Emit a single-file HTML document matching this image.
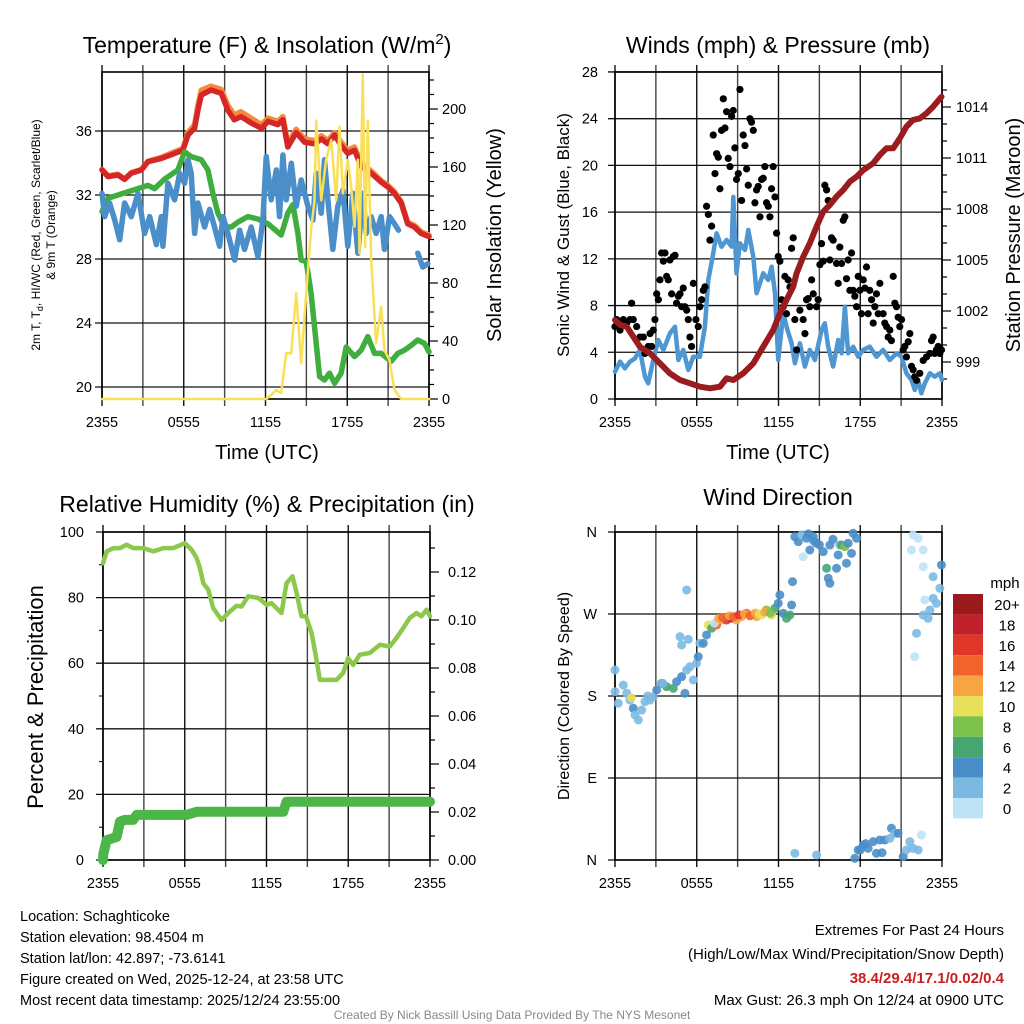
<!DOCTYPE html>
<html><head><meta charset="utf-8">
<style>
html,body{margin:0;padding:0;background:#fff;}
svg{display:block;font-family:"Liberation Sans",Arial,sans-serif;}
</style></head>
<body>
<svg id="c" width="1024" height="1024" viewBox="0 0 1024 1024" xmlns="http://www.w3.org/2000/svg">
<rect width="1024" height="1024" fill="#fff"/>
<text x="267" y="53" font-size="23" text-anchor="middle">Temperature (F) &amp; Insolation (W/m<tspan dy="-9" font-size="15">2</tspan><tspan dy="9">)</tspan></text>
<text x="778" y="53" font-size="23" text-anchor="middle">Winds (mph) &amp; Pressure (mb)</text>
<text x="267" y="512" font-size="23" text-anchor="middle">Relative Humidity (%) &amp; Precipitation (in)</text>
<text x="778" y="505" font-size="23" text-anchor="middle">Wind Direction</text>
<text transform="translate(40,235) rotate(-90)" font-size="12" text-anchor="middle">2m T, T<tspan dy="3" font-size="9">d</tspan><tspan dy="-3">, HI/WC (Red, Green, Scarlet/Blue)</tspan></text>
<text transform="translate(55,235) rotate(-90)" font-size="12" text-anchor="middle">&amp; 9m T (Orange)</text>
<text transform="translate(501,235) rotate(-90)" font-size="20" text-anchor="middle">Solar Insolation (Yellow)</text>
<text x="267" y="459" font-size="20" text-anchor="middle">Time (UTC)</text>
<text transform="translate(569,235) rotate(-90)" font-size="17" text-anchor="middle">Sonic Wind &amp; Gust (Blue, Black)</text>
<text transform="translate(1020,235) rotate(-90)" font-size="20" text-anchor="middle">Station Pressure (Maroon)</text>
<text x="778" y="459" font-size="20" text-anchor="middle">Time (UTC)</text>
<text transform="translate(43,697) rotate(-90)" font-size="22" text-anchor="middle">Percent &amp; Precipitation</text>
<text transform="translate(569,696) rotate(-90)" font-size="16" text-anchor="middle">Direction (Colored By Speed)</text>
<text x="1005" y="588" font-size="15" text-anchor="middle">mph</text>
<g font-size="14.5">
<text x="20" y="921">Location: Schaghticoke</text>
<text x="20" y="942">Station elevation: 98.4504 m</text>
<text x="20" y="963">Station lat/lon: 42.897; -73.6141</text>
<text x="20" y="984">Figure created on Wed, 2025-12-24, at 23:58 UTC</text>
<text x="20" y="1005">Most recent data timestamp: 2025/12/24 23:55:00</text>
</g>
<g font-size="15" text-anchor="end">
<text x="1004" y="935">Extremes For Past 24 Hours</text>
<text x="1004" y="959">(High/Low/Max Wind/Precipitation/Snow Depth)</text>
<text x="1004" y="983" fill="#c8201f" font-weight="bold">38.4/29.4/17.1/0.02/0.4</text>
<text x="1004" y="1005">Max Gust: 26.3 mph On 12/24 at 0900 UTC</text>
</g>
<text x="512" y="1019" font-size="12" fill="#888" text-anchor="middle">Created By Nick Bassill Using Data Provided By The NYS Mesonet</text>
</svg>
<script>
const timeLabels = ["2355","0555","1155","1755","2355"];
const tempTicks = [20,24,28,32,36];
const solarTicks = [0,40,80,120,160,200];
const redHours = [0,0.44,1.17,1.66,2.15,2.9,3.37,4.35,5.33,5.94,6.31,6.8,7.04,7.29,8.0,8.75,9.24,9.7,10.2,10.95,11.7,12.18,12.9,13.28,13.64,14.25,14.87,15.6,16.1,16.58,17.07,17.55,18.04,18.53,19.02,19.76,20.5,20.98,21.47,21.96,22.44,22.93,23.42,24];
const redTemp = [33.56,33.15,33.25,32.98,33.36,33.56,34.08,34.29,34.6,34.8,35.75,36.17,37.3,38.25,38.56,38.36,37.3,36.7,36.9,36.5,36.17,36.6,36.4,36.7,35.0,35.9,35.3,35.2,35.5,35.2,35.75,35.1,34.6,34.8,33.8,33.36,32.8,32.5,32.1,31.5,30.2,30.0,29.6,29.4];
const orangeTemp = [33.6,33.2,33.3,33.0,33.4,33.6,34.1,34.35,34.7,34.9,35.9,36.4,37.6,38.55,38.8,38.6,37.6,37.0,37.2,36.8,36.4,36.8,36.6,36.9,35.2,36.1,35.5,35.4,35.7,35.4,35.9,35.3,34.8,35.0,34.0,33.5,32.9,32.6,32.2,31.6,30.3,30.1,29.7,29.5];
const greenHours = [0,0.44,1.17,1.91,2.64,3.37,3.86,4.6,5.57,6.06,6.55,7.29,7.77,8.14,8.51,9.0,9.5,9.97,10.7,11.44,12.18,13.15,13.64,14.01,14.38,14.62,14.99,15.35,15.72,15.97,16.33,16.7,17.07,17.55,17.92,18.53,19.02,19.51,20.0,20.49,21.22,21.71,22.2,22.69,23.17,23.66,24];
const greenTemp = [30.96,31.8,32.0,32.2,32.4,32.6,32.4,33.0,33.56,34.7,34.4,34.2,33.56,32.1,30.86,30.0,30.0,30.3,30.65,30.5,30.2,29.5,30.86,31.4,29.6,27.94,27.84,25.86,22.73,20.65,20.44,20.86,20.23,20.86,22.5,21.9,22.3,23.15,22.1,22.1,21.6,22.1,22.3,22.6,22.94,22.73,22.2];
const blueHours = [0,0.2,0.56,0.93,1.3,1.66,2.15,2.64,3.13,3.5,3.99,4.35,4.47,4.84,5.33,5.7,6.06,6.31,6.55,6.8,7.04,7.53,7.9,8.26,8.63,8.88,9.24,9.73,10.1,10.46,10.95,11.44,11.81,12.05,12.42,12.79,13.03,13.28,13.52,13.89,14.25,14.62,15.11,15.48,15.72,16.09,16.33,16.58,16.94,17.31,17.68,18.04,18.41,18.78,19.14,19.39,19.76,20.12,20.49,20.73,21.1,21.47,21.76,22.5,23.18,23.54,23.91];
const blueTemp = [32.1,30.65,31.5,30.44,29.2,31.5,30.65,32.1,29.6,30.65,28.9,30.65,28.8,32.73,31.7,33.36,32.73,34.2,33.36,29.6,31.5,30.0,31.1,30.0,28.8,30.65,29.6,27.94,29.8,28.6,30.0,28.15,30.44,34.4,31.7,33.56,30.65,34.5,31.7,33.98,31.3,32.94,31.3,30.44,33.36,30.86,34.2,31.7,28.6,31.3,32.3,28.8,32.1,28.36,32.1,29.6,30.65,29.6,30.65,28.6,30.65,30.2,29.8,null,28.36,27.5,27.7];
const solarHours = [0,12.05,12.42,12.79,13.15,13.52,13.89,14.25,14.62,14.99,15.35,15.6,15.72,16.09,16.45,16.82,17.19,17.43,17.68,18.04,18.29,18.53,18.78,18.9,19.14,19.32,19.51,19.76,20.12,20.49,20.73,21.1,21.47,21.96,24];
const solarWm2 = [0,0,2.8,6.2,4.1,31.6,31.6,73,24.6,73,116.6,137,192,137,165,178.6,137,187.8,141.8,165,146.4,118.8,165,100.5,224,105,192,95.9,38.4,63.7,33.8,26.9,6.2,0,0];
const windTicks = [0,4,8,12,16,20,24,28];
const presTicks = [999,1002,1005,1008,1011,1014];
const presHours = [0,0.37,0.86,1.34,1.83,2.57,3.3,4.03,4.77,5.5,6.23,6.97,7.7,8.19,8.68,9.41,10.15,10.88,11.61,12.1,12.59,13.08,13.33,13.81,14.3,14.79,15.28,15.77,16.26,16.75,17.24,17.73,18.22,18.95,19.44,19.93,20.42,20.9,21.39,21.88,22.37,22.86,23.35,23.96];
const presMb = [1001.47,1001.18,1001.08,1000.49,999.9,999.51,998.92,998.33,997.94,997.75,997.55,997.45,997.55,998.04,997.94,998.33,998.92,999.9,1000.88,1001.86,1002.65,1003.43,1004.22,1005.19,1005.98,1006.96,1007.84,1008.24,1008.73,1009.12,1009.61,1009.9,1010.29,1010.69,1011.18,1011.57,1011.57,1012.16,1012.84,1013.24,1013.33,1013.63,1014.02,1014.6];
const windHours = [0,0.37,0.73,1.1,1.47,1.83,2.2,2.44,2.81,3.18,3.55,4.03,4.4,4.65,5.01,5.38,5.75,6.23,6.6,6.85,7.21,7.46,7.82,8.19,8.56,8.68,8.92,9.17,9.54,9.78,10.15,10.39,10.88,11.25,11.49,11.74,11.98,12.35,12.59,12.96,13.2,13.57,13.94,14.3,14.67,15.16,15.4,15.65,16.01,16.38,16.63,16.87,17.11,17.48,17.85,18.22,18.7,19.19,19.68,20.17,20.66,21.03,21.39,21.76,22.0,22.25,22.49,22.74,23.11,23.47,23.84,24];
const windMph = [2.34,3.2,2.63,3.2,3.48,4.2,1.91,1.34,3.34,5.05,4.2,5.62,6.19,3.34,4.2,2.48,3.62,3.62,6.19,10.19,12.47,14.19,13.04,13.61,13.04,17.3,10.76,13.33,12.76,14.47,12.18,9.05,10.76,10.19,11.33,9.05,3.34,7.34,6.19,4.77,3.06,4.77,2.77,4.2,3.34,5.91,6.48,4.48,2.77,5.05,3.91,7.9,3.91,4.48,3.62,4.2,4.48,3.62,4.2,3.34,3.91,3.62,2.2,1.63,0.77,1.63,0.49,1.34,2.2,1.91,2.2,1.63];
const gustHours = [0,0.12,0.37,0.61,0.86,1.1,1.22,1.34,1.59,1.83,2.08,2.2,2.44,2.57,2.69,2.81,2.93,3.06,3.18,3.3,3.42,3.55,3.67,3.79,3.91,4.03,4.16,4.28,4.4,4.52,4.65,4.77,4.89,5.01,5.13,5.26,5.38,5.5,5.62,5.75,5.94,6.11,6.23,6.36,6.48,6.6,6.72,6.85,6.97,7.09,7.21,7.34,7.46,7.58,7.7,7.82,7.95,8.07,8.19,8.31,8.44,8.56,8.68,8.8,8.92,9.05,9.17,9.29,9.41,9.54,9.66,9.78,9.9,10.02,10.15,10.27,10.39,10.51,10.64,10.76,10.88,11.0,11.12,11.25,11.37,11.49,11.61,11.74,11.86,11.98,12.1,12.23,12.35,12.47,12.59,12.71,12.84,12.96,13.08,13.2,13.33,13.57,13.81,13.94,14.06,14.18,14.3,14.43,14.55,14.79,14.91,15.04,15.16,15.28,15.4,15.53,15.65,15.77,15.89,16.01,16.26,16.38,16.5,16.63,16.75,16.87,16.99,17.11,17.24,17.36,17.48,17.6,17.73,17.85,17.97,18.09,18.22,18.34,18.46,18.58,18.7,18.83,18.95,19.07,19.19,19.32,19.44,19.68,19.8,19.93,20.05,20.17,20.29,20.42,20.54,20.66,20.78,20.9,21.03,21.15,21.27,21.39,21.52,21.64,21.76,21.88,22.0,22.13,22.37,22.62,22.86,23.11,23.23,23.35,23.47,23.59,23.72,23.84,23.96];
const gustMph = [6.2,6.8,5.9,6.8,6.5,6.8,8.2,6.8,6.2,5.3,5.3,3.9,4.5,5.6,4.5,5.9,6.8,9.0,8.5,10.2,12.5,11.8,12.5,10.5,10.2,11.9,9.0,12.2,12.3,8.2,8.8,9.0,7.9,9.5,7.9,7.6,6.8,5.3,4.5,9.9,6.8,6.2,7.9,8.5,9.3,9.6,16.5,15.8,13.6,14.8,22.6,19.3,21.0,20.7,18.0,23.0,25.7,23.2,24.6,20.6,19.9,24.2,24.7,21.5,18.8,19.3,26.5,17.0,22.6,21.7,19.7,18.3,24.0,23.7,23.0,16.8,17.9,18.2,15.6,18.8,18.9,19.9,16.8,16.5,15.6,18.0,19.9,17.3,14.2,12.2,11.8,8.5,7.9,10.5,7.3,10.2,9.6,12.9,13.8,6.8,4.2,7.6,6.8,5.6,8.5,8.6,7.9,10.2,9.0,7.9,8.5,11.5,13.3,11.8,18.3,17.9,17.0,11.9,13.8,13.6,11.6,9.9,13.0,11.6,15.3,15.6,10.3,11.9,9.3,12.5,9.3,8.8,7.9,10.5,9.3,7.3,10.2,9.5,11.3,7.3,9.3,8.5,6.5,7.9,9.0,7.3,9.9,7.3,6.5,6.2,5.3,5.9,5.0,10.5,8.2,7.9,7.0,6.2,6.8,4.2,4.5,3.6,4.9,5.6,2.8,2.5,1.9,1.6,2.2,3.3,3.6,3.9,5.0,5.3,3.9,4.2,4.5,3.9,4.2];
const rhTicks = [0,20,40,60,80,100];
const precipTicks = ["0.00","0.02","0.04","0.06","0.08","0.10","0.12"];
const rhHours = [0,0.27,0.76,1.25,1.74,2.22,2.96,3.69,4.43,5.16,6.01,6.5,6.87,7.11,7.36,7.73,8.09,8.7,9.32,9.8,10.17,10.66,11.39,12.0,12.37,13.1,13.47,13.91,14.21,14.57,14.89,15.31,15.67,15.92,16.28,16.65,17.14,17.63,17.99,18.36,18.85,19.58,20.32,21.05,21.54,22.03,22.52,23.01,23.37,23.74,24];
const rhPct = [90.5,94.1,95.1,95.1,96.1,95.1,95.1,94.1,95.1,95.1,96.6,94.6,92.1,89,84.4,82.4,76.8,73.2,75.8,77.5,77.3,80.4,79.9,77.8,78.3,75.3,84.4,86.5,81.4,74.3,74.3,69.2,61.0,54.9,54.9,54.9,54.9,57,61.5,59.5,62.6,63.1,65.6,65.1,67.7,70.7,73.8,75.3,74.3,76.3,74.3];
const precipHours = [0,0.02,0.27,1.0,1.25,1.61,2.22,2.47,6.14,6.87,13.23,13.47,24];
const precipIn = [0,0.0025,0.0083,0.0096,0.016,0.0167,0.0167,0.0188,0.0188,0.0201,0.0201,0.0243,0.0243];
const dirLabels = ["N","E","S","W","N"];
const dirHours = [0,0,0.24,0.61,0.86,1.1,1.34,1.47,1.71,1.96,2.2,2.57,2.81,3.06,3.42,3.79,4.28,4.52,4.89,5.13,5.26,5.5,5.75,5.99,6.11,6.23,6.48,6.72,4.77,4.89,5.38,5.26,6.85,7.09,7.46,7.82,8.19,8.56,8.92,9.29,9.66,10.02,10.39,10.76,11.12,11.49,11.74,11.98,12.1,12.35,12.59,12.84,12.96,13.03,13.2,13.45,13.69,13.81,14.06,14.3,14.55,14.79,15.28,15.77,15.53,15.65,15.77,16.26,16.38,16.5,16.63,16.87,17.11,17.36,16.99,17.48,17.73,13.2,14.79,17.6,17.85,18.22,18.58,18.95,19.19,19.44,19.8,20.17,20.29,20.54,20.78,21.15,21.39,21.64,21.88,22.25,22.49,21.88,22.25,21.76,22.62,22.62,23.35,23.84,23.96,22.74,23.35,23.59,23.11,22.62,22.98,22.13,22.0,7.3,7.6,7.9,8.4,8.7,9.1,9.5,9.9,10.3,10.6,11.0,11.4,1.2,2.4,3.5,18.0,18.4,19.6,14.2,14.6,15.0,16.0];
const dirDeg = [208.5,184.7,172,192,183,175.6,166.5,159.2,153.7,164.6,173.8,175.6,179.3,186.6,193.9,190.2,188.4,195.7,201.2,183,208.5,212.2,197.6,215.9,223.2,237.8,237.8,247,245.1,236,242.2,296.4,257.9,254.3,257.9,263.4,263.4,265.3,263.4,267.1,270.8,268.9,267.1,268.9,274.4,268.9,276.3,281.7,290.9,270.8,265.3,268.9,279.9,305.5,354.9,349.4,356.7,332.9,353.1,340.3,354.9,347.6,338.4,345.7,320.2,309.2,303.7,320.2,334.8,345.7,345.7,343.9,347.6,336.6,325.7,358.6,353.1,7.3,5.5,1.8,11,16.5,12.8,20.1,7.3,22,22,23.8,34.8,29.3,29.3,3.6,11,20.1,12.8,11,27.4,356.7,353.1,340.3,340.3,321.9,311,298.2,323.8,285.4,287.2,281.7,274.4,268.9,265.3,248.8,223.2,260,265,266,268,267,269,270,268,271,270,272,271,178,180,194,11,18,8,358,350,346,352];
const dirSpeed = [3,3,3,3,3,3,5,3,3,3,3,3,3,5,5,7,7,5,5,5,3,3,3,3,5,3,5,5,3,3,3,3,11,7,15,13,17,19,13,13,15,13,13,11,9,11,7,5,5,5,7,7,5,5,5,5,3,1,5,5,5,5,5,5,7,5,5,5,5,3,7,9,5,5,5,5,5,3,3,5,5,5,5,5,5,5,5,3,5,3,5,5,3,3,3,3,1,1,1,1,1,1,3,3,5,1,3,3,3,3,3,3,1,1,13,15,13,15,17,13,15,13,11,13,9,11,3,3,5,5,5,5,5,5,5,5];
const legendLabels = ["20+","18","16","14","12","10","8","6","4","2","0"];
const legendColors = ["#9a1a1e","#c0202a","#e0362a","#f0632c","#f7a544","#e8e05a","#7cc24a","#46a672","#4a8ec8","#7bb9e3","#bfe3f6"];

const NS = "http://www.w3.org/2000/svg";
const svg = document.getElementById('c');
function mk(tag, attrs, parent) {
  const e = document.createElementNS(NS, tag);
  for (const k in attrs) e.setAttribute(k, attrs[k]);
  (parent || svg).appendChild(e);
  return e;
}
function panel(name, x0, x1, y0, y1) {
  const g = mk('g', {});
  
  
  return {g, x0, x1, y0, y1, xs: h => x0 + (x1 - x0) * h / 24};
}
function grid(p, yVals, yScale, nameBase) {
  for (let i = 0; i <= 8; i++) {
    const x = p.xs(i * 3);
    const l = mk('line', {x1: x, x2: x, y1: p.y0 - 7, y2: p.y1 + 7, stroke: i % 2 ? '#444' : '#111', 'stroke-width': 1.4}, p.g);
    
    
  }
  yVals.forEach(v => {
    const y = yScale(v);
    const l = mk('line', {x1: p.x0 - 7, x2: p.x1, y1: y, y2: y, stroke: '#111', 'stroke-width': 1.3}, p.g);
    
    
  });
  const r = mk('rect', {x: p.x0, y: p.y0, width: p.x1 - p.x0, height: p.y1 - p.y0, fill: 'none', stroke: '#000', 'stroke-width': 1.6}, p.g);
  
  
  timeLabels.forEach((t, i) => {
    const tx = mk('text', {x: p.xs(i * 6), y: p.y1 + 28, 'font-size': 14.5, 'text-anchor': 'middle'}, p.g);
    tx.textContent = t;
    
    
  });
}
function yLabel(p, x, y, txt, anchor, name) {
  const t = mk('text', {x, y: y + 5, 'font-size': 14.5, 'text-anchor': anchor}, p.g);
  t.textContent = txt;
  
  
}
function rightTicks(p, y, minor) {
  const l = mk('line', {x1: p.x1, x2: p.x1 + (minor ? 5 : 9), y1: y, y2: y, stroke: '#000', 'stroke-width': 1.2}, p.g);
  
  
}
function path(p, hours, vals, yScale, color, width, name) {
  let d = '', pen = false;
  hours.forEach((h, i) => {
    if (vals[i] === null) { pen = false; return; }
    d += (pen ? 'L' : 'M') + p.xs(h).toFixed(1) + ',' + yScale(vals[i]).toFixed(1);
    pen = true;
  });
  const e = mk('path', {d, fill: 'none', stroke: color, 'stroke-width': width, 'stroke-linejoin': 'round', 'stroke-linecap': 'round'}, p.g);
  
  
}

const p1 = panel('temperature-panel', 102, 429, 72, 399);
const yT = v => 387 - (v - 20) * 16;
const yS = v => 399 - v * 1.45;
grid(p1, tempTicks, yT, 'temp');
tempTicks.forEach(v => yLabel(p1, 92, yT(v), String(v), 'end', 'temp-y-tick-label'));
for (let v = 0; v <= 220; v += 10) rightTicks(p1, yS(v), v % 40 !== 0);
solarTicks.forEach(v => yLabel(p1, 442, yS(v), String(v), 'start', 'solar-y-tick-label'));
path(p1, redHours, orangeTemp, yT, '#f58a3a', 5.5, 'orange-9m-temp-line');
path(p1, redHours, redTemp, yT, '#d62728', 5.5, 'red-2m-temp-line');
path(p1, greenHours, greenTemp, yT, '#3fae3f', 5.5, 'green-dewpoint-line');
path(p1, blueHours, blueTemp, yT, '#4a8fc9', 5.5, 'blue-windchill-line');
path(p1, solarHours, solarWm2, yS, '#f9e05a', 2.5, 'yellow-solar-line');

const p2 = panel('wind-panel', 615, 942, 72, 399);
const yW = v => 399 - v * 11.68;
const yP = v => 362 - (v - 999) * 17;
grid(p2, windTicks, yW, 'wind');
windTicks.forEach(v => yLabel(p2, 598, yW(v), String(v), 'end', 'wind-y-tick-label'));
for (let v = 998; v <= 1015.5; v += 1) rightTicks(p2, yP(v), (v - 999) % 3 !== 0);
presTicks.forEach(v => yLabel(p2, 956, yP(v), String(v), 'start', 'pressure-y-tick-label'));
path(p2, windHours, windMph, yW, '#4f97d2', 4.5, 'sonic-wind-line');
gustHours.forEach((h, i) => {
  const c = mk('circle', {cx: p2.xs(h), cy: yW(gustMph[i]), r: 3.6, fill: '#000'}, p2.g);
  
  
});
path(p2, presHours, presMb, yP, '#9b1c1f', 6, 'pressure-line');

const p3 = panel('rh-panel', 103, 430, 532, 860);
const yR = v => 860 - v * 3.28;
const yPr = v => 860 - v * 2400;
grid(p3, rhTicks, yR, 'rh');
rhTicks.forEach(v => yLabel(p3, 84, yR(v), String(v), 'end', 'rh-y-tick-label'));
for (let v = 0; v <= 13; v++) rightTicks(p3, yPr(v * 0.01), v % 2 !== 0);
precipTicks.forEach(v => yLabel(p3, 448, yPr(parseFloat(v)), v, 'start', 'precip-y-tick-label'));
for (let v = 10; v < 100; v += 20) {
  const l = mk('line', {x1: p3.x0 - 4, x2: p3.x0, y1: yR(v), y2: yR(v), stroke: '#000'}, p3.g);
  
  
}
path(p3, precipHours, precipIn, yPr, '#4cb648', 10, 'precip-line');
path(p3, rhHours, rhPct, yR, '#8cc84b', 4.5, 'rh-line');

const p4 = panel('wind-direction-panel', 615, 942, 532, 860);
const yD = v => 860 - v * 328 / 360;
grid(p4, [0, 90, 180, 270, 360], yD, 'dir');
dirLabels.forEach((t, i) => yLabel(p4, 597, yD(i * 90), t, 'end', 'dir-y-tick-label'));
function speedColor(s) {
  const idx = Math.min(10, Math.floor(s / 2));
  return legendColors[10 - idx];
}
dirHours.forEach((h, i) => {
  const c = mk('circle', {cx: p4.xs(h), cy: yD(dirDeg[i]), r: 4.5, fill: speedColor(dirSpeed[i]), 'fill-opacity': 0.9}, p4.g);
  
  
});
legendLabels.forEach((t, i) => {
  const y = 594 + i * 20.4;
  const r = mk('rect', {x: 953, y, width: 30, height: 20.4, fill: legendColors[i]});
  
  
  const tx = mk('text', {x: 1007, y: y + 16, 'font-size': 15, 'text-anchor': 'middle'});
  tx.textContent = t;
  
  
});
</script>
</body></html>
